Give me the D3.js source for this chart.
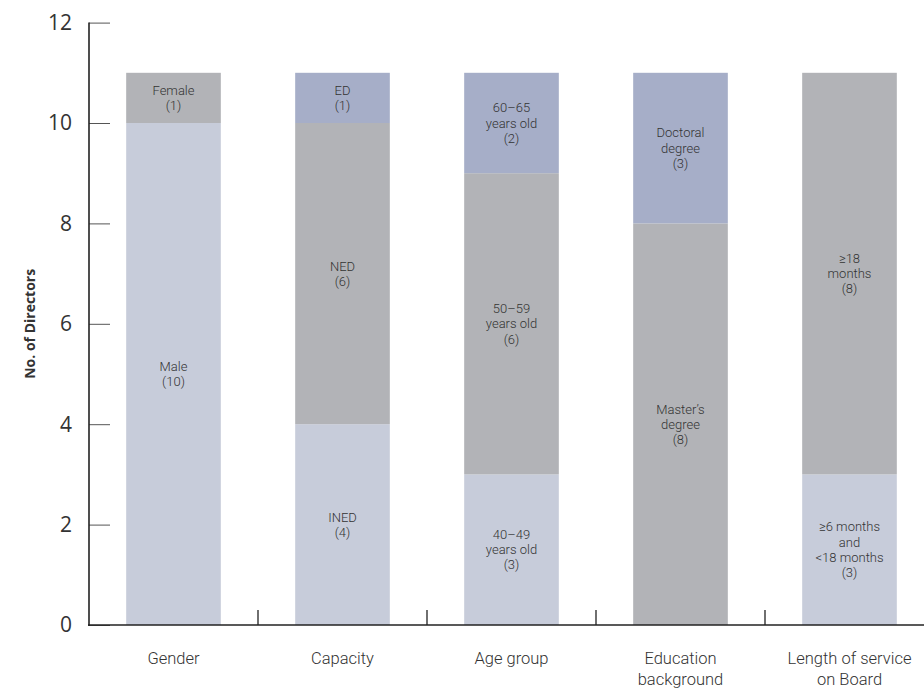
<!DOCTYPE html>
<html>
<head>
<meta charset="utf-8">
<script src="https://cdn.jsdelivr.net/npm/d3@7"></script>
<style>
  html, body { margin: 0; padding: 0; background: #fff; }
  svg text { font-family: "Open Sans", "Noto Sans", sans-serif; fill: #333; }
  svg text.seg, svg text.cat { font-family: Roboto, "Open Sans", sans-serif; font-weight: 300; }
</style>
</head>
<body>
<svg id="chart" width="924" height="690"></svg>
<script>
// Board composition: categories, stacked segments (bottom to top), axis ticks
const categories = ["Gender", "Capacity", "Age group", "Education background", "Length of service on Board"];
const categoryLines = [["Gender"], ["Capacity"], ["Age group"], ["Education", "background"], ["Length of service", "on Board"]];

const genderSegments = [
  { label: ["Male", "(10)"], value: 10, tone: "light" },
  { label: ["Female", "(1)"], value: 1, tone: "grey" }
];
const capacitySegments = [
  { label: ["INED", "(4)"], value: 4, tone: "light" },
  { label: ["NED", "(6)"], value: 6, tone: "grey" },
  { label: ["ED", "(1)"], value: 1, tone: "blue" }
];
const ageSegments = [
  { label: ["40–49", "years old", "(3)"], value: 3, tone: "light" },
  { label: ["50–59", "years old", "(6)"], value: 6, tone: "grey" },
  { label: ["60–65", "years old", "(2)"], value: 2, tone: "blue" }
];
const educationSegments = [
  { label: ["Master’s", "degree", "(8)"], value: 8, tone: "grey" },
  { label: ["Doctoral", "degree", "(3)"], value: 3, tone: "blue" }
];
const serviceSegments = [
  { label: ["≥6 months", "and", "<18 months", "(3)"], value: 3, tone: "light" },
  { label: ["≥18", "months", "(8)"], value: 8, tone: "grey" }
];
const segmentsByCategory = [genderSegments, capacitySegments, ageSegments, educationSegments, serviceSegments];

const yTicks = [0, 2, 4, 6, 8, 10, 12];
const yTitle = "No. of Directors";

const toneColor = { light: "#c7ccda", grey: "#b2b3b7", blue: "#a6aec8" };

const svg = d3.select("#chart");

const x = d3.scaleBand()
  .domain(categories)
  .range([89, 934])
  .paddingInner(0.44)
  .paddingOuter(0.22);

const y = d3.scaleLinear().domain([0, 12]).range([625, 22.6]);

// Stack each category's segments
const rows = [];
categories.forEach((cat, i) => {
  let base = 0;
  segmentsByCategory[i].forEach(seg => {
    rows.push({ cat, y0: base, y1: base + seg.value, ...seg });
    base += seg.value;
  });
});

svg.append("g").selectAll("rect")
  .data(rows)
  .join("rect")
  .attr("x", d => x(d.cat))
  .attr("width", x.bandwidth())
  .attr("y", d => y(d.y1))
  .attr("height", d => y(d.y0) - y(d.y1))
  .attr("fill", d => toneColor[d.tone]);

// Segment labels, centred in each segment, one text per line
const lineH = 15.2;
const segLines = rows.flatMap(d => d.label.map((t, k) => ({
  t,
  cx: x(d.cat) + x.bandwidth() / 2,
  cy: (y(d.y0) + y(d.y1)) / 2 + (k - (d.label.length - 1) / 2) * lineH
})));
svg.append("g").selectAll("text")
  .data(segLines)
  .join("text")
  .attr("class", "seg")
  .attr("text-anchor", "middle")
  .attr("font-size", 13)
  .attr("x", d => d.cx)
  .attr("y", d => d.cy)
  .attr("dy", "0.35em")
  .text(d => d.t);

// Y axis
const yAxis = svg.append("g")
  .attr("transform", "translate(89,0)")
  .call(d3.axisRight(y).tickValues(yTicks).tickSize(21).tickFormat(""));
yAxis.select(".domain").remove();
yAxis.selectAll(".tick line").attr("stroke", "#555").attr("stroke-width", 1);

svg.append("g").selectAll("text")
  .data(yTicks)
  .join("text")
  .attr("x", 72)
  .attr("y", d => y(d))
  .attr("dy", "0.35em")
  .attr("text-anchor", "end")
  .attr("font-size", 21)
  .text(d => d);

svg.append("line")
  .attr("x1", 89).attr("x2", 89)
  .attr("y1", y(12)).attr("y2", y(0) + 1)
  .attr("stroke", "#222").attr("stroke-width", 1.6);

// X axis baseline and category dividers
svg.append("line")
  .attr("x1", 88).attr("x2", 924)
  .attr("y1", y(0)).attr("y2", y(0))
  .attr("stroke", "#222").attr("stroke-width", 1.6);

svg.append("g").selectAll("line")
  .data(categories.slice(1))
  .join("line")
  .attr("x1", d => x(d) - x.step() * x.paddingInner() / 2)
  .attr("x2", d => x(d) - x.step() * x.paddingInner() / 2)
  .attr("y1", y(0) - 15)
  .attr("y2", y(0))
  .attr("stroke", "#222").attr("stroke-width", 1.3);

// Category labels
const catLines = categories.flatMap((c, i) => categoryLines[i].map((t, k) => ({
  t, cx: x(c) + x.bandwidth() / 2, k
})));
svg.append("g").selectAll("text")
  .data(catLines)
  .join("text")
  .attr("class", "cat")
  .attr("text-anchor", "middle")
  .attr("font-size", 16.5)
  .attr("x", d => d.cx)
  .attr("y", d => 664 + d.k * 20.5)
  .text(d => d.t);

// Y axis title
svg.append("text")
  .attr("transform", `translate(35,${y(6)}) rotate(-90)`)
  .attr("text-anchor", "middle")
  .attr("font-size", 14)
  .attr("font-weight", 700)
  .text(yTitle);
</script>
</body>
</html>
